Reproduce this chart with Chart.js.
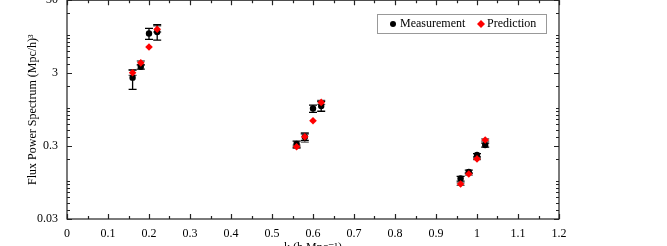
<!DOCTYPE html>
<html>
<head>
<meta charset="utf-8">
<script src="https://cdn.jsdelivr.net/npm/chart.js@4.4.1/dist/chart.umd.min.js"></script>
<style>
  html, body { margin: 0; padding: 0; background: #fff; }
  #wrap { position: relative; width: 667px; height: 246px; overflow: hidden; }
  #box { position: absolute; left: 0; top: -16px; width: 667px; height: 274px; }
</style>
</head>
<body>
<div id="wrap"><div id="box"><canvas id="fluxChart"></canvas></div></div>
<script>
// k values (h/Mpc)
const kValues = [0.16, 0.18, 0.20, 0.22, 0.56, 0.58, 0.60, 0.62, 0.96, 0.98, 1.00, 1.02];

// Measurement with error bounds
const measured   = [2.6, 3.66, 10.5, 11.0, 0.32, 0.40, 0.985, 1.06, 0.108, 0.133, 0.226, 0.31];
const measuredLo = [1.8, 3.4, 8.7, 8.5, 0.29, 0.36, 0.87, 0.90, 0.099, 0.128, 0.213, 0.29];
const measuredHi = [3.3, 3.9, 12.3, 13.9, 0.35, 0.44, 1.09, 1.23, 0.115, 0.14, 0.237, 0.33];

// Prediction with error bounds
const predicted   = [3.03, 4.15, 6.86, 12.0, 0.294, 0.403, 0.667, 1.19, 0.0904, 0.124, 0.200, 0.363];
const predictedLo = [2.8, 3.9, 6.86, 11.0, 0.28, 0.34, 0.667, 1.12, 0.087, 0.12, 0.195, 0.35];
const predictedHi = [3.35, 4.4, 6.86, 13.4, 0.31, 0.457, 0.667, 1.27, 0.094, 0.128, 0.205, 0.376];

const yLabels = [0.03, 0.3, 3, 30];

const serif = '"Liberation Serif", "DejaVu Serif", serif';

function toPoints(ys) {
    return kValues.map(function(k, i) { return { x: k, y: ys[i] }; });
}

// error bars, inside ticks, frame and legend
const extras = {
    id: 'extras',
    beforeDatasetsDraw(chart) {
        const ctx = chart.ctx;
        const xs = chart.scales.x, ys = chart.scales.y;
        const sets = [
            { lo: predictedLo, hi: predictedHi, color: '#555' },
            { lo: measuredLo, hi: measuredHi, color: '#000' }
        ];
        ctx.save();
        ctx.lineWidth = 1.3;
        sets.forEach(function(s) {
            ctx.strokeStyle = s.color;
            kValues.forEach(function(k, i) {
                if (s.hi[i] - s.lo[i] < 1e-9) return;
                const px = xs.getPixelForValue(k);
                const top = ys.getPixelForValue(s.hi[i]);
                const bot = ys.getPixelForValue(s.lo[i]);
                ctx.beginPath();
                ctx.moveTo(px, top); ctx.lineTo(px, bot);
                ctx.moveTo(px - 4, top); ctx.lineTo(px + 4, top);
                ctx.moveTo(px - 4, bot); ctx.lineTo(px + 4, bot);
                ctx.stroke();
            });
        });
        ctx.restore();
    },
    afterDraw(chart) {
        const ctx = chart.ctx;
        const a = chart.chartArea;
        const xs = chart.scales.x, ys = chart.scales.y;
        ctx.save();
        ctx.strokeStyle = '#222';
        ctx.lineWidth = 1.2;
        ctx.strokeRect(a.left, a.top, a.right - a.left, a.bottom - a.top);

        ctx.beginPath();
        ys.ticks.forEach(function(t) {
            const py = Math.round(ys.getPixelForValue(t.value)) + 0.5;
            const len = t.label ? 5 : 3;
            ctx.moveTo(a.left, py); ctx.lineTo(a.left + len, py);
            ctx.moveTo(a.right, py); ctx.lineTo(a.right - len, py);
        });
        xs.ticks.forEach(function(t) {
            const px = Math.round(xs.getPixelForValue(t.value)) + 0.5;
            const len = t.label ? 5 : 3;
            ctx.moveTo(px, a.bottom); ctx.lineTo(px, a.bottom - len);
            ctx.moveTo(px, a.top); ctx.lineTo(px, a.top + len);
        });
        ctx.stroke();

        // legend
        const lx = 377, ly = 14 + 16, lw = 169, lh = 19;
        ctx.strokeStyle = '#999';
        ctx.lineWidth = 1;
        ctx.strokeRect(lx + 0.5, ly + 0.5, lw, lh);
        ctx.font = '12px ' + serif;
        ctx.textBaseline = 'middle';
        ctx.fillStyle = '#000';
        const cy = ly + lh / 2 + 0.5;
        ctx.beginPath(); ctx.arc(393, cy, 3, 0, Math.PI * 2); ctx.fill();
        ctx.fillText(chart.data.datasets[0].label, 400, cy);
        ctx.fillStyle = '#f00';
        ctx.beginPath();
        ctx.moveTo(481, cy - 4); ctx.lineTo(485, cy); ctx.lineTo(481, cy + 4); ctx.lineTo(477, cy);
        ctx.closePath(); ctx.fill();
        ctx.fillStyle = '#000';
        ctx.fillText(chart.data.datasets[1].label, 487, cy);
        ctx.restore();
    }
};

const ctx = document.getElementById('fluxChart').getContext('2d');
const fluxChart = new Chart(ctx, {
    type: 'scatter',
    data: {
        datasets: [{
            label: 'Measurement',
            data: toPoints(measured),
            pointStyle: 'circle',
            pointRadius: 3.2,
            backgroundColor: '#000',
            borderColor: '#000',
            borderWidth: 0,
            order: 2
        }, {
            label: 'Prediction',
            data: toPoints(predicted),
            pointStyle: 'rectRot',
            pointRadius: 3.8,
            backgroundColor: '#ff0000',
            borderColor: '#ff0000',
            borderWidth: 0,
            order: 1
        }]
    },
    options: {
        responsive: true,
        maintainAspectRatio: false,
        animation: false,
        layout: { padding: { top: 0, right: 108, left: 0, bottom: 0 } },
        plugins: {
            legend: { display: false },
            tooltip: { enabled: false }
        },
        scales: {
            x: {
                type: 'linear',
                min: 0,
                max: 1.2,
                grid: { display: false, drawTicks: false },
                border: { display: false },
                ticks: {
                    stepSize: 0.05,
                    autoSkip: false,
                    maxRotation: 0,
                    padding: 8,
                    color: '#000',
                    font: { family: serif, size: 12 },
                    callback: function(v) {
                        const r = Math.round(v * 100);
                        return r % 10 === 0 ? String(r / 100) : '';
                    }
                },
                title: {
                    display: true,
                    text: 'k (h Mpc\u207B\u00B9)',
                    color: '#000',
                    font: { family: serif, size: 12 },
                    padding: { top: 0, bottom: 3 }
                },
                afterFit: function(scale) { scale.height = 39; }
            },
            y: {
                type: 'logarithmic',
                min: 0.03,
                max: 30,
                grid: { display: false, drawTicks: false },
                border: { display: false },
                afterBuildTicks: function(scale) {
                    const t = [];
                    for (let e = -2; e <= 1; e++) {
                        for (let m = 1; m <= 9; m++) {
                            const v = parseFloat((m * Math.pow(10, e)).toPrecision(3));
                            if (v >= 0.03 - 1e-9 && v <= 30 + 1e-9) t.push({ value: v });
                        }
                    }
                    scale.ticks = t;
                },
                ticks: {
                    autoSkip: false,
                    padding: 9,
                    color: '#000',
                    font: { family: serif, size: 12 },
                    callback: function(v) {
                        return yLabels.some(function(l) { return Math.abs(l - v) < 1e-9; }) ? String(v) : '';
                    }
                },
                title: {
                    display: true,
                    text: 'Flux Power Spectrum (Mpc/h)\u00B3',
                    color: '#000',
                    font: { family: serif, size: 12 },
                    padding: { top: 26, bottom: 0 }
                },
                afterFit: function(scale) { scale.width = 67; }
            }
        }
    },
    plugins: [extras]
});
</script>
</body>
</html>
